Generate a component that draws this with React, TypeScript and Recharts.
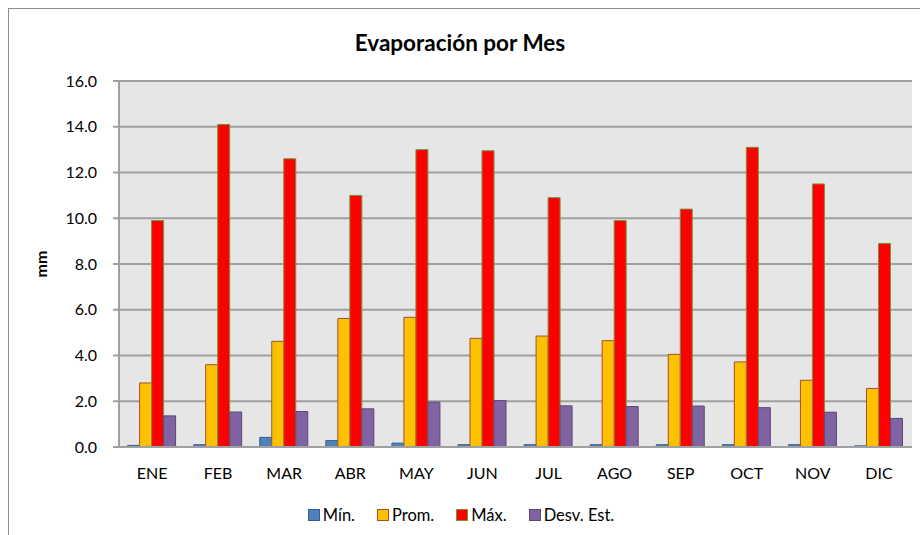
import React from 'react';
import {
  BarChart,
  Bar,
  XAxis,
  YAxis,
  CartesianGrid,
  Legend,
  Label,
} from 'recharts';

const months = ['ENE', 'FEB', 'MAR', 'ABR', 'MAY', 'JUN', 'JUL', 'AGO', 'SEP', 'OCT', 'NOV', 'DIC'];
const minVals = [0.07, 0.1, 0.42, 0.28, 0.17, 0.1, 0.1, 0.1, 0.1, 0.1, 0.1, 0.05];
const promVals = [2.8, 3.6, 4.62, 5.62, 5.67, 4.75, 4.85, 4.65, 4.05, 3.72, 2.92, 2.56];
const maxVals = [9.9, 14.1, 12.6, 11.0, 13.0, 12.95, 10.9, 9.9, 10.4, 13.1, 11.5, 8.9];
const desvVals = [1.36, 1.53, 1.55, 1.67, 1.96, 2.03, 1.8, 1.77, 1.79, 1.72, 1.52, 1.25];
const yTicks = [0, 2, 4, 6, 8, 10, 12, 14, 16];

const series = [
  { key: 'min', name: 'Mín.', fill: '#4F81BD', stroke: '#385D8A' },
  { key: 'prom', name: 'Prom.', fill: '#FFC000', stroke: '#A0522D' },
  { key: 'max', name: 'Máx.', fill: '#FF0000', stroke: '#77933C' },
  { key: 'desv', name: 'Desv. Est.', fill: '#8064A2', stroke: '#5C4776' },
];

const data = months.map((m, i) => ({
  month: m,
  min: minVals[i],
  prom: promVals[i],
  max: maxVals[i],
  desv: desvVals[i],
}));

const font = 'Lato, "Open Sans", sans-serif';

const LegendContent = () => (
  <div style={{ display: 'flex', justifyContent: 'center', paddingLeft: 24, fontFamily: font, fontSize: 16.5, color: '#000' }}>
    {series.map((s) => (
      <div key={s.key} style={{ display: 'flex', alignItems: 'center', marginRight: 22 }}>
        <span
          style={{
            width: 10,
            height: 10,
            background: s.fill,
            border: `1px solid ${s.stroke}`,
            marginRight: 3,
            display: 'inline-block',
          }}
        />
        <span>{s.name}</span>
      </div>
    ))}
  </div>
);

export default function App() {
  return (
    <div style={{ position: 'absolute', left: 0, top: 0, width: 920, height: 535, background: '#fff', overflow: 'hidden' }}>
      <div
        style={{
          position: 'absolute',
          left: 8,
          top: 8,
          width: 940,
          height: 560,
          border: '1px solid #8c8c8c',
        }}
      />
      <div
        style={{
          position: 'absolute',
          left: 0,
          top: 29,
          width: 920,
          textAlign: 'center',
          fontFamily: font,
          fontWeight: 'bold',
          fontSize: 22.5,
          color: '#000',
        }}
      >
        Evaporación por Mes
      </div>
      <div style={{ position: 'absolute', left: 0, top: 0 }}>
        <BarChart
          width={920}
          height={535}
          data={data}
          margin={{ top: 81, right: 8, bottom: 38, left: 41 }}
          barCategoryGap="13%"
          barGap={0}
        >
          <CartesianGrid vertical={false} fill="#E6E6E6" stroke="#A0A0A0" strokeWidth={2} />
          <XAxis
            dataKey="month"
            tickLine={false}
            axisLine={{ stroke: '#A0A0A0', strokeWidth: 2 }}
            tick={{ fontFamily: font, fontSize: 16, fill: '#000' }}
            tickMargin={15}
            interval={0}
          />
          <YAxis
            width={78}
            domain={[0, 16]}
            ticks={yTicks}
            tickFormatter={(v: number) => v.toFixed(1)}
            tick={{ fontFamily: font, fontSize: 16, fill: '#000' }}
            tickLine={{ stroke: '#A0A0A0', strokeWidth: 2 }}
            tickSize={6}
            tickMargin={16}
            axisLine={{ stroke: '#A0A0A0', strokeWidth: 2 }}
          >
            <Label
              value="mm"
              angle={-90}
              position="insideLeft"
              offset={0}
              style={{ textAnchor: 'middle', fontFamily: font, fontWeight: 'bold', fontSize: 16, fill: '#000' }}
            />
          </YAxis>
          <Legend
            verticalAlign="bottom"
            content={<LegendContent />}
            wrapperStyle={{ left: 0, width: 920, top: 505, bottom: 'auto' }}
          />
          {series.map((s) => (
            <Bar
              key={s.key}
              dataKey={s.key}
              name={s.name}
              fill={s.fill}
              stroke={s.stroke}
              strokeWidth={1}
              isAnimationActive={false}
            />
          ))}
        </BarChart>
      </div>
    </div>
  );
}
